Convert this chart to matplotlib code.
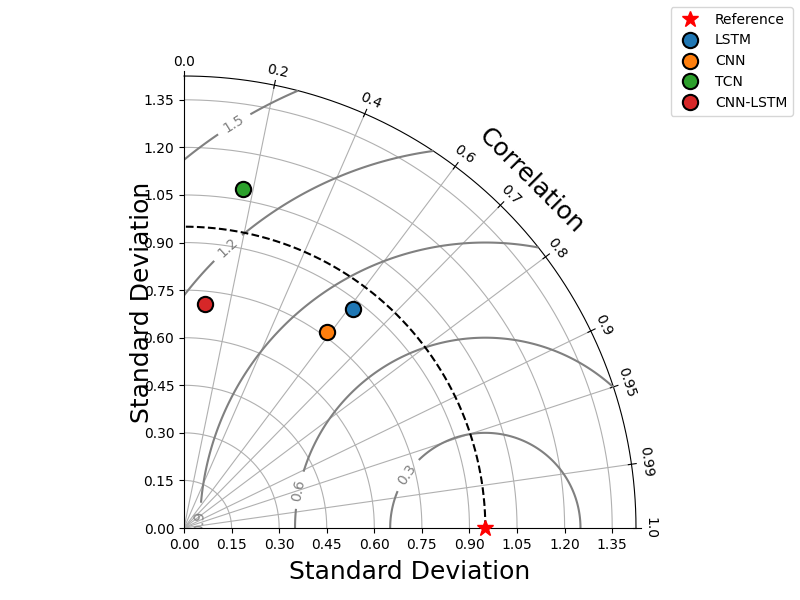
import numpy as np
import matplotlib
matplotlib.use("Agg")
import matplotlib.pyplot as plt

# Taylor diagram data
ref_std = 0.95
models = ["LSTM", "CNN", "TCN", "CNN-LSTM"]
model_std = [0.873, 0.763, 1.084, 0.709]
model_corr = [0.612, 0.589, 0.172, 0.094]
model_colors = ["#1f77b4", "#ff7f0e", "#2ca02c", "#d62728"]
corr_ticks = [0.0, 0.2, 0.4, 0.6, 0.7, 0.8, 0.9, 0.95, 0.99, 1.0]
std_ticks = [0.0, 0.15, 0.30, 0.45, 0.60, 0.75, 0.90, 1.05, 1.20, 1.35]
rms_levels = [0.3, 0.6, 0.9, 1.2, 1.5]
rms_label_pos = [(0.70, 0.17), (0.36, 0.12), (0.047, 0.02), (0.139, 0.883), (0.16, 1.27)]

smax = 1.5 * ref_std

fig = plt.figure(figsize=(8, 6), dpi=100)
ax = fig.add_axes([0.23, 0.12, 0.565, 0.7533])
ax.set_xlim(0, smax)
ax.set_ylim(0, smax)
ax.set_aspect("equal")
ax.spines["top"].set_visible(False)
ax.spines["right"].set_visible(False)
ax.set_xticks(std_ticks)
ax.set_yticks(std_ticks)
ax.set_xticklabels([f"{v:.2f}" for v in std_ticks])
ax.set_yticklabels([f"{v:.2f}" for v in std_ticks])

th = np.linspace(0, np.pi / 2, 300)

# std grid arcs
for s in std_ticks[1:]:
    ax.plot(s * np.cos(th), s * np.sin(th), color="#b0b0b0", lw=0.8, zorder=1)

# correlation rays, ticks and labels
for c in corr_ticks:
    a = np.arccos(c)
    if 0 < c < 1:
        ax.plot([0, smax * np.cos(a)], [0, smax * np.sin(a)],
                color="#b0b0b0", lw=0.8, zorder=1)
    ax.plot([(smax - 0.01) * np.cos(a), (smax + 0.015) * np.cos(a)],
            [(smax - 0.01) * np.sin(a), (smax + 0.015) * np.sin(a)],
            color="k", lw=0.8, clip_on=False)
    r = smax * 1.032
    ax.text(r * np.cos(a), r * np.sin(a), f"{c:g}" if c not in (0.0, 1.0) else f"{c:.1f}",
            rotation=np.degrees(a) - 90, ha="center", va="center",
            fontsize=10, rotation_mode="anchor")

# outer arc
ax.plot(smax * np.cos(th), smax * np.sin(th), color="k", lw=0.8, clip_on=False)

# centred RMS contours
rs = np.linspace(0, smax, 300)
R, T = np.meshgrid(rs, th)
X = R * np.cos(T)
Y = R * np.sin(T)
RMS = np.sqrt(ref_std ** 2 + R ** 2 - 2 * ref_std * R * np.cos(T))
cs = ax.contour(X, Y, RMS, levels=rms_levels, colors="gray", linewidths=1.5, zorder=2)
ax.clabel(cs, fmt="%.1f", fontsize=10, manual=rms_label_pos, inline_spacing=8)

# reference std arc
ax.plot(ref_std * np.cos(th), ref_std * np.sin(th), "k--", lw=1.5, zorder=3)

ax.plot(ref_std, 0, "*", color="red", ms=12, label="Reference",
        clip_on=False, zorder=6)
for name, s, c, col in zip(models, model_std, model_corr, model_colors):
    ax.plot(s * c, s * np.sin(np.arccos(c)), "o", ms=11, mfc=col, mec="k",
            mew=1.5, label=name, zorder=5)

ax.text(smax * 1.086 * np.cos(np.pi / 4), smax * 1.086 * np.sin(np.pi / 4),
        "Correlation", rotation=-45, ha="center", va="center", fontsize=18)

ax.set_xlabel("Standard Deviation", fontsize=18)
ax.set_ylabel("Standard Deviation", fontsize=18)
ax.yaxis.set_label_coords(-0.066, 0.5)
ax.xaxis.set_label_coords(0.5, -0.071)

fig.legend(loc="upper right")
fig.savefig("out.png", dpi=100)
